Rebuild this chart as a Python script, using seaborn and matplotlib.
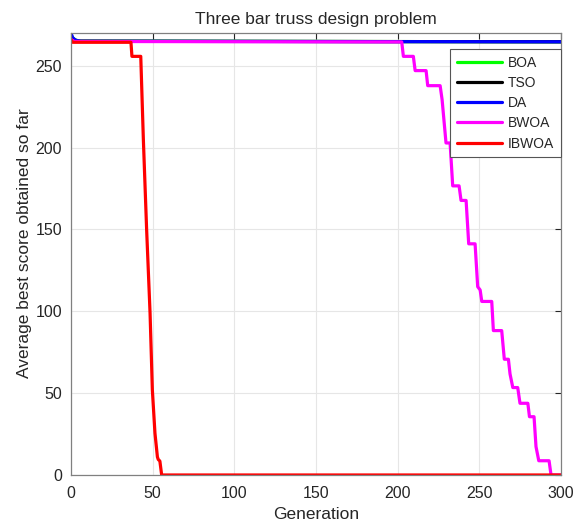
import numpy as np
import pandas as pd
import matplotlib
matplotlib.use("Agg")
import matplotlib.pyplot as plt
import seaborn as sns

# Convergence curves (generation, average best score) for each optimiser
algorithms = ["BOA", "TSO", "DA", "BWOA", "IBWOA"]
colors = ["#00ff00", "#000000", "#0000ff", "#ff00ff", "#ff0000"]

boa_gen = [0, 2, 5, 300]
boa_val = [268.5, 266.0, 265.0, 264.6]

tso_gen = [0, 3, 300]
tso_val = [267.0, 265.0, 264.6]

da_gen = [0, 1, 3, 6, 300]
da_val = [270.0, 267.0, 265.5, 264.9, 264.6]

bwoa_gen = [0, 2, 202.5, 203.5, 209.6, 210.7, 217.4, 218.4, 226.0, 227.2, 229.6,
            232.1, 233.7, 237.6, 238.8, 241.9, 243.5, 247.4, 249.0, 250.5, 251.5,
            257.6, 258.6, 263.7, 265.3, 267.8, 268.8, 270.5, 273.5, 274.9, 279.7,
            280.7, 283.5, 284.7, 286.4, 292.7, 293.9, 300]
bwoa_val = [266.0, 264.8, 264.5, 255.7, 255.7, 247.0, 247.0, 237.8, 237.8, 229.3, 202.8,
            202.8, 176.6, 176.6, 167.7, 167.7, 141.2, 141.2, 115.0, 113.0, 106.0,
            106.0, 88.2, 88.2, 70.7, 70.7, 61.7, 53.4, 53.4, 43.8, 43.8,
            35.6, 35.6, 17.3, 8.7, 8.7, 0.0, 0.0]

ibwoa_gen = [0, 1, 36.7, 37.3, 42.7, 44.3, 46.3, 48.4, 49.8, 51.4, 52.9, 53.4,
             54.4, 55.5, 300]
ibwoa_val = [266.0, 264.3, 264.3, 255.7, 255.7, 204.8, 149.8, 98.8, 52.0, 25.5, 11.0, 9.5,
             8.5, 0.0, 0.0]

series = {
    "BOA": (boa_gen, boa_val),
    "TSO": (tso_gen, tso_val),
    "DA": (da_gen, da_val),
    "BWOA": (bwoa_gen, bwoa_val),
    "IBWOA": (ibwoa_gen, ibwoa_val),
}

frames = []
for name in algorithms:
    g, v = series[name]
    frames.append(pd.DataFrame({"Generation": g, "Score": v, "Algorithm": name}))
df = pd.concat(frames, ignore_index=True)

sns.set_style("whitegrid")
plt.rcParams["font.family"] = ["Liberation Sans", "DejaVu Sans"]

fig = plt.figure(figsize=(5.84, 5.23), dpi=100)
ax = fig.add_axes([0.1216, 0.0918, 0.8390, 0.8452])

sns.lineplot(data=df, x="Generation", y="Score", hue="Algorithm",
             hue_order=algorithms, palette=colors, estimator=None, sort=False,
             linewidth=2.3, ax=ax)

ax.set_xlim(0, 300)
ax.set_ylim(0, 270)
ax.set_xticks([0, 50, 100, 150, 200, 250, 300])
ax.set_yticks([0, 50, 100, 150, 200, 250])
ax.set_xlabel("Generation", fontsize=12.5, labelpad=4)
ax.set_ylabel("Average best score obtained so far", fontsize=12.5)
ax.yaxis.set_label_coords(-0.079, 0.525)
ax.set_title("Three bar truss design problem", fontsize=12.5, pad=6.5)

ax.grid(True, color="#e6e6e6", linewidth=0.8)
ax.tick_params(direction="in", length=4, width=0.8, colors="#262626",
               labelsize=11.5, top=True, right=True)
ax.tick_params(axis="x", pad=8)
ax.tick_params(axis="y", pad=6.5)
for s in ax.spines.values():
    s.set_visible(True)
    s.set_color("#808080")
    s.set_linewidth(0.9)

leg = ax.legend(loc="upper right", bbox_to_anchor=(0.999, 0.963), fontsize=10,
                frameon=True, fancybox=False, framealpha=1, edgecolor="#555555",
                handlelength=3.3, handletextpad=0.4, borderpad=0.45,
                labelspacing=0.45, borderaxespad=0.0)
leg.get_frame().set_linewidth(0.8)
for line in leg.get_lines():
    line.set_linewidth(2.3)

fig.savefig("out.png", dpi=100)
